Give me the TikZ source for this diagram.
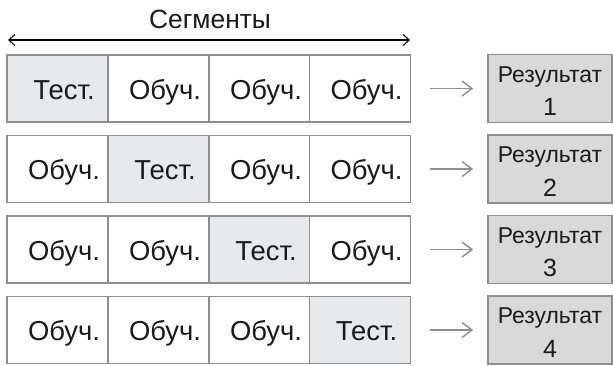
\documentclass[tikz,border=0pt]{standalone}
\usepackage{fontspec}
\setmainfont{Liberation Sans}
\usetikzlibrary{arrows.meta}
\definecolor{bordc}{HTML}{8E8E8E}
\definecolor{testc}{HTML}{E8E9EB}
\definecolor{resc}{HTML}{D9D9D9}
\definecolor{txtc}{HTML}{1A1A1A}
\begin{document}
\begin{tikzpicture}[x=1bp,y=-1bp,
  cell/.style={draw=bordc,line width=1.7pt,minimum width=101bp,minimum height=67bp,inner sep=0pt},
  lbl/.style={anchor=base,xshift=6.5bp,yshift=-10.5bp,inner sep=0pt,text=txtc,font=\fontsize{27.5}{30}\selectfont},
  testcell/.style={cell,fill=testc},
  trcell/.style={cell,fill=white},
  resbox/.style={draw=bordc,line width=1.7pt,fill=resc,minimum width=124bp,minimum height=68bp,inner sep=0pt},
  reslbl/.style={anchor=base,inner sep=0pt,text=txtc,font=\fontsize{23}{26}\selectfont},
  numlbl/.style={anchor=base,inner sep=0pt,text=txtc,font=\fontsize{25}{28}\selectfont},
  grarrow/.style={draw=bordc,line width=1.4pt,-{Straight Barb[length=10pt,width=15pt,line width=1.4pt]},shorten <=19bp,shorten >=14bp},
  segarrow/.style={draw=black,line width=1.1pt,{Straight Barb[length=6pt,width=11pt]}-{Straight Barb[length=6pt,width=11pt]}}
]
\useasboundingbox (0,0) rectangle (613,365);
\node[anchor=base,inner sep=0pt,font=\fontsize{26.5}{30}\selectfont,text=txtc] (seg) at (210,28) {Сегменты};
\coordinate (sl) at (8,40);
\coordinate (sr) at (410,40);
\draw[segarrow] (sl) -- (sr);

% row 1
\node[testcell] (r1c1) at (57.5,88.5) {}; \node[lbl] (t11) at (r1c1) {Тест.};
\node[trcell] (r1c2) at (158.5,88.5) {}; \node[lbl] (t12) at (r1c2) {Обуч.};
\node[trcell] (r1c3) at (259.5,88.5) {}; \node[lbl] (t13) at (r1c3) {Обуч.};
\node[trcell] (r1c4) at (360,88.5) {}; \node[lbl] (t14) at (r1c4) {Обуч.};
% row 2
\node[trcell] (r2c1) at (57.5,169) {}; \node[lbl] (t21) at (r2c1) {Обуч.};
\node[testcell] (r2c2) at (158.5,169) {}; \node[lbl] (t22) at (r2c2) {Тест.};
\node[trcell] (r2c3) at (259.5,169) {}; \node[lbl] (t23) at (r2c3) {Обуч.};
\node[trcell] (r2c4) at (360,169) {}; \node[lbl] (t24) at (r2c4) {Обуч.};
% row 3
\node[trcell] (r3c1) at (57.5,249.5) {}; \node[lbl] (t31) at (r3c1) {Обуч.};
\node[trcell] (r3c2) at (158.5,249.5) {}; \node[lbl] (t32) at (r3c2) {Обуч.};
\node[testcell] (r3c3) at (259.5,249.5) {}; \node[lbl] (t33) at (r3c3) {Тест.};
\node[trcell] (r3c4) at (360,249.5) {}; \node[lbl] (t34) at (r3c4) {Обуч.};
% row 4
\node[trcell] (r4c1) at (57.5,330) {}; \node[lbl] (t41) at (r4c1) {Обуч.};
\node[trcell] (r4c2) at (158.5,330) {}; \node[lbl] (t42) at (r4c2) {Обуч.};
\node[trcell] (r4c3) at (259.5,330) {}; \node[lbl] (t43) at (r4c3) {Обуч.};
\node[testcell] (r4c4) at (360,330) {}; \node[lbl] (t44) at (r4c4) {Тест.};

% results
\foreach \i/\y in {1/88.5,2/169,3/249.5,4/330}{
  \node[resbox] (res\i) at (550,\y) {};
  \node[reslbl,yshift=6.5bp] (rest\i) at (res\i) {Результат};
  \node[numlbl,yshift=-27bp] (resn\i) at (res\i) {\i};
}

\draw[grarrow] (r1c4.east) -- (res1.west);
\draw[grarrow] (r2c4.east) -- (res2.west);
\draw[grarrow] (r3c4.east) -- (res3.west);
\draw[grarrow] (r4c4.east) -- (res4.west);
\end{tikzpicture}
\end{document}
